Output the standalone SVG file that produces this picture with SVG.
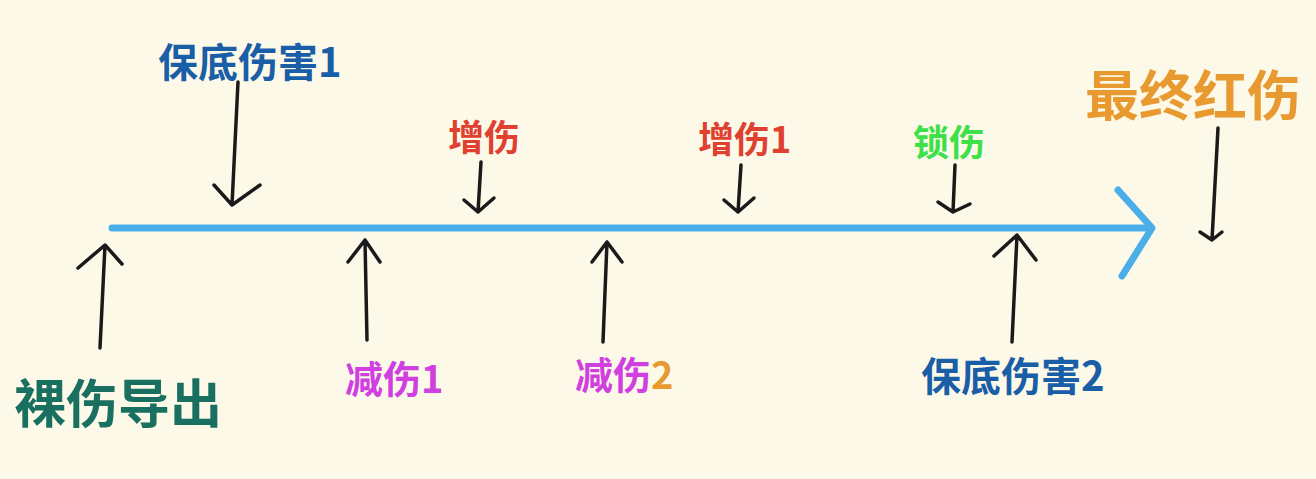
<svg xmlns="http://www.w3.org/2000/svg" width="1316" height="479" viewBox="0 0 1316 479">
<style>
text{font-family:"Noto Sans CJK SC","Noto Sans",sans-serif;font-weight:bold}
.a{stroke:#1a1a1a;stroke-width:3.5;fill:none;stroke-linecap:round;stroke-linejoin:round}
</style>
<rect width="1316" height="479" fill="#fdf9e8"/>
<g id="connectors">
<path d="M112 228 L1150 228" stroke="#4aaee8" stroke-width="7" stroke-linecap="round" fill="none"/>
<path d="M1118 190 L1152 228 L1122 276" stroke="#4aaee8" stroke-width="7" stroke-linecap="round" stroke-linejoin="round" fill="none"/>
<path class="a" d="M238 82 L232 205 M214 185 L232 205 L260 185"/>
<path class="a" d="M481 162 L478 212 M464 200 L478 212 L494 198"/>
<path class="a" d="M741 165 L738 212 M724 200 L738 212 L754 198"/>
<path class="a" d="M955 165 L953 212 M938 202 L953 212 L970 204"/>
<path class="a" d="M1218 128 L1212 240 M1200 232 L1212 240 L1222 232"/>
<path class="a" d="M100 348 L105 245 M78 268 L105 245 L122 264"/>
<path class="a" d="M367 340 L365 240 M348 262 L365 240 L380 262"/>
<path class="a" d="M603 342 L607 242 M592 262 L607 242 L622 262"/>
<path class="a" d="M1012 342 L1017 235 M994 256 L1017 235 L1036 260"/>
</g>
<g id="n1"><text x="158" y="77" font-size="40" fill="#1a5ea8">保底伤害1</text></g>
<g id="n2"><text x="448" y="151" font-size="36" fill="#e04030">增伤</text></g>
<g id="n3"><text x="698" y="153" font-size="36" fill="#e04030">增伤1</text></g>
<g id="n4"><text x="913" y="156" font-size="36" fill="#3ee04a">锁伤</text></g>
<g id="n5"><text x="1085" y="116" font-size="54" fill="#e89a30">最终红伤</text></g>
<g id="n6"><text x="14" y="423" font-size="52" fill="#1a7060">裸伤导出</text></g>
<g id="n7"><text x="345" y="393" font-size="38" fill="#d040e0">减伤1</text></g>
<g id="n8"><text x="575" y="389" font-size="38" fill="#d040e0">减伤<tspan fill="#e89a30">2</tspan></text></g>
<g id="n9"><text x="921" y="391" font-size="40" fill="#1a5ea8">保底伤害2</text></g>
</svg>
